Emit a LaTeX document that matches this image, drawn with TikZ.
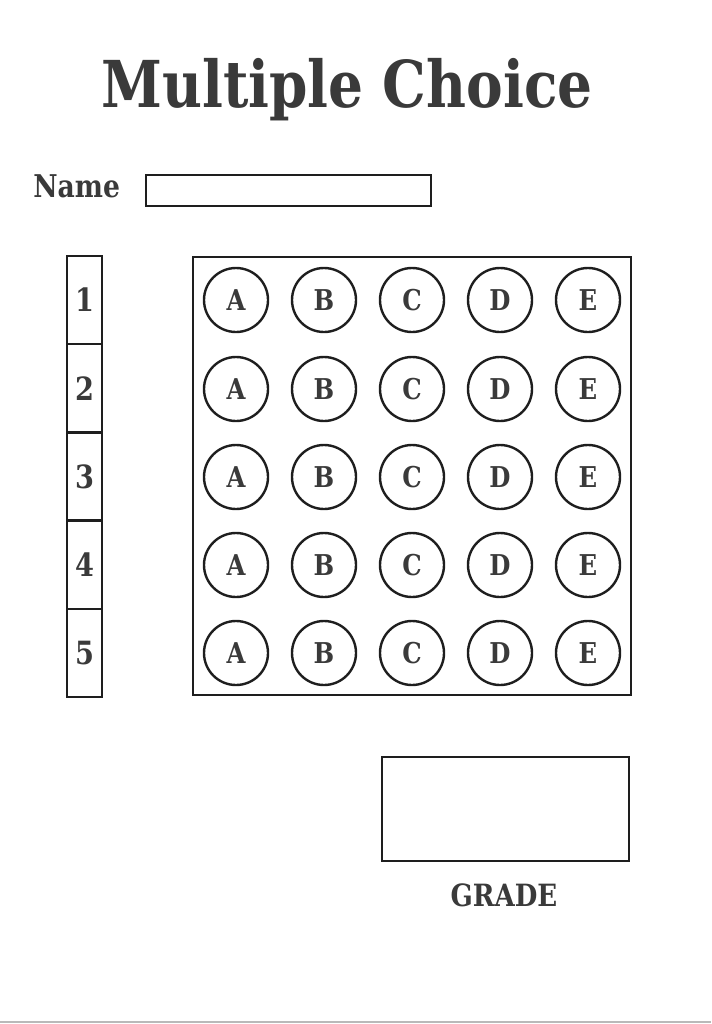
\documentclass[tikz,border=0pt]{standalone}
\usepackage{fontspec}
\setmainfont{DejaVu Serif}[FakeStretch=0.85]
\usepackage{xcolor}
\usepackage{tikz}
\definecolor{inkgray}{HTML}{3A3A3A}
\definecolor{linegray}{HTML}{1E1E1E}

\begin{document}
\begin{tikzpicture}[x=0.75pt, y=-0.75pt]
        % Define styles
        \tikzset{
            answer/.style={circle, draw=linegray, line width=1.8pt, minimum size=48pt, inner sep=0pt, text=inkgray, font=\fontsize{21.5}{21.5}\selectfont\bfseries},
            number/.style={rectangle, draw=linegray, line width=1.8pt, minimum width=26.25pt, minimum height=66.15pt, inner sep=0pt, text=inkgray, font=\fontsize{24}{24}\selectfont\bfseries},
            field/.style={rectangle, draw=linegray, line width=1.8pt, inner sep=0pt},
            heading/.style={text=inkgray, inner sep=0pt}
        }
        \useasboundingbox (0,0) rectangle (711,1024);

        % Title and name
        \node[heading, anchor=base, font=\fontsize{48.5}{48.5}\selectfont\bfseries] (title) at (347,108) {Multiple Choice};
        \node[heading, anchor=base west, font=\fontsize{23.5}{23.5}\selectfont\bfseries] (name_label) at (33,197) {Name};
        \node[field, minimum width=213.75pt, minimum height=23.25pt] (name_box) at (288.5,190.5) {};

        % Question numbers
        \node[number] (number_1) at (84.5,300.1) {1};
        \node[number] (number_2) at (84.5,388.3) {2};
        \node[number] (number_3) at (84.5,476.5) {3};
        \node[number] (number_4) at (84.5,564.7) {4};
        \node[number] (number_5) at (84.5,652.9) {5};

        % Answer grid
        \node[field, minimum width=328.5pt, minimum height=328.5pt] (grid_box) at (412,476) {};

        % row 1
        \node[answer] (answer_1_a) at (236,300) {A};
        \node[answer] (answer_1_b) at (324,300) {B};
        \node[answer] (answer_1_c) at (412,300) {C};
        \node[answer] (answer_1_d) at (500,300) {D};
        \node[answer] (answer_1_e) at (588,300) {E};
        % row 2
        \node[answer] (answer_2_a) at (236,389) {A};
        \node[answer] (answer_2_b) at (324,389) {B};
        \node[answer] (answer_2_c) at (412,389) {C};
        \node[answer] (answer_2_d) at (500,389) {D};
        \node[answer] (answer_2_e) at (588,389) {E};
        % row 3
        \node[answer] (answer_3_a) at (236,477) {A};
        \node[answer] (answer_3_b) at (324,477) {B};
        \node[answer] (answer_3_c) at (412,477) {C};
        \node[answer] (answer_3_d) at (500,477) {D};
        \node[answer] (answer_3_e) at (588,477) {E};
        % row 4
        \node[answer] (answer_4_a) at (236,565) {A};
        \node[answer] (answer_4_b) at (324,565) {B};
        \node[answer] (answer_4_c) at (412,565) {C};
        \node[answer] (answer_4_d) at (500,565) {D};
        \node[answer] (answer_4_e) at (588,565) {E};
        % row 5
        \node[answer] (answer_5_a) at (236,653) {A};
        \node[answer] (answer_5_b) at (324,653) {B};
        \node[answer] (answer_5_c) at (412,653) {C};
        \node[answer] (answer_5_d) at (500,653) {D};
        \node[answer] (answer_5_e) at (588,653) {E};

        % Grade
        \node[field, minimum width=185.25pt, minimum height=78pt] (grade_box) at (505.5,809) {};
        \node[heading, anchor=base, font=\fontsize{23}{23}\selectfont\bfseries] (grade_label) at (504,906) {GRADE};

        % Page edge
        \draw[gray!55, line width=1.5pt] (0,1022) -- (711,1022);
    \end{tikzpicture}
\end{document}
